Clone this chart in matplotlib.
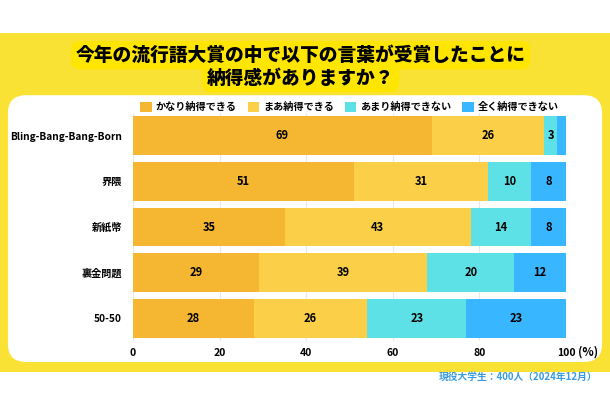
import matplotlib.pyplot as plt
import numpy as np
from matplotlib.patches import FancyBboxPatch, Rectangle

plt.rcParams['font.family'] = ['Noto Sans CJK JP', 'DejaVu Sans']
plt.rcParams['font.weight'] = 'bold'

# データ
categories = ['Bling-Bang-Bang-Born', '界隈', '新紙幣', '裏金問題', '50-50']
series_names = ['かなり納得できる', 'まあ納得できる', 'あまり納得できない', '全く納得できない']
values = [
    [69, 51, 35, 29, 28],
    [26, 31, 43, 39, 26],
    [3, 10, 14, 20, 23],
    [2, 8, 8, 12, 23],
]
colors = ['#F5B731', '#FBCF48', '#5EE1E6', '#38B6FF']
ticks = [0, 20, 40, 60, 80, 100]

fig = plt.figure(figsize=(6.1, 4.0), dpi=100)
fig.patch.set_facecolor('white')

# 背景 (黄色の帯 + 白いパネル)
fig.patches.append(Rectangle((0, 0.07), 1, 0.8475, transform=fig.transFigure,
                             facecolor='#F9E233', edgecolor='none', zorder=0))
fig.patches.append(FancyBboxPatch((0.013, 0.095), 0.974, 0.667,
                                  boxstyle='round,pad=0,rounding_size=0.03',
                                  transform=fig.transFigure, facecolor='white',
                                  edgecolor='none', zorder=0, mutation_aspect=1.5))

# タイトル
box = dict(boxstyle='round,pad=0.25,rounding_size=0.5', facecolor='#FFE600', edgecolor='none')
fig.text(0.493, 0.862, '今年の流行語大賞の中で以下の言葉が受賞したことに',
         ha='center', va='center', fontsize=13.5, fontweight='black', bbox=box)
fig.text(0.493, 0.805, '納得感がありますか？',
         ha='center', va='center', fontsize=13.5, fontweight='black', bbox=box)

ax = fig.add_axes([0.218, 0.1475, 0.71, 0.57])
ax.set_facecolor('none')
ax.set_zorder(2)

y = np.arange(len(categories))
left = np.zeros(len(categories))
for name, vals, c in zip(series_names, values, colors):
    vals = np.array(vals)
    bars = ax.barh(y, vals, left=left, height=0.85, color=c, label=name, zorder=2)
    for b, v in zip(bars, vals):
        if v >= 3:
            ax.text(b.get_x() + b.get_width() / 2, b.get_y() + b.get_height() / 2, str(v),
                    ha='center', va='center', fontsize=8, fontweight='bold', zorder=3)
    left += vals

ax.set_xlim(0, 100)
ax.set_ylim(len(categories) - 0.5, -0.5)
ax.set_yticks(y)
ax.set_yticklabels(categories, fontsize=7.3, fontweight='bold')
ax.set_xticks(ticks)
ax.set_xticklabels([str(t) for t in ticks], fontsize=7.5, fontweight='bold')
ax.tick_params(length=0, pad=8)
ax.tick_params(axis='x', pad=5)
ax.grid(axis='x', color='#e8e8e8', linewidth=0.8, zorder=0)
for s in ax.spines.values():
    s.set_visible(False)

fig.text(0.947, 0.12, '(%)', ha='left', va='center', fontsize=8.5, fontweight='bold', zorder=3)

ax.legend(loc='lower center', bbox_to_anchor=(0.5, 0.985), ncol=4, frameon=False,
          fontsize=7.3, handlelength=1.1, handleheight=1.1, handletextpad=0.4,
          columnspacing=1.1, borderaxespad=0)

# 出典
fig.text(0.98, 0.058, '現役大学生：400人（2024年12月）', ha='right', va='center',
         fontsize=7, fontweight='bold', color='#3A9BE0')

plt.savefig('out.png', dpi=100)
